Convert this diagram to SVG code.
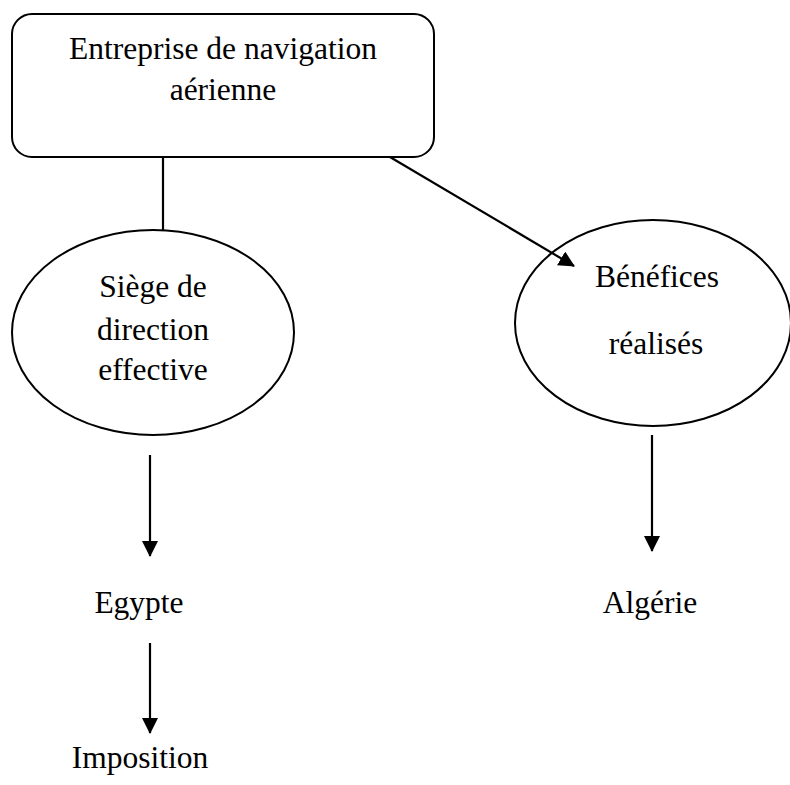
<svg xmlns="http://www.w3.org/2000/svg" width="790" height="785" viewBox="0 0 790 785">
  <style>
    .shape { fill: #ffffff; stroke: #000000; stroke-width: 2; }
    .link { fill: none; stroke: #000000; stroke-width: 2.2; }
    .label { font-family: "Liberation Serif", "Times New Roman", serif; font-size: 31.5px; fill: #000000; text-anchor: middle; }
  </style>
  <defs>
    <marker id="arrow" markerUnits="userSpaceOnUse" viewBox="0 0 16 16" refX="15" refY="8" markerWidth="16" markerHeight="16" orient="auto">
      <path d="M0,0 L16,8 L0,16 z" fill="#000000"/>
    </marker>
  </defs>
  <rect width="790" height="785" fill="#ffffff"/>

  <g id="entreprise">
    <rect class="shape" x="12" y="14" width="422" height="143" rx="20" ry="20"/>
    <text class="label" x="223" y="59">Entreprise de navigation</text>
    <text class="label" x="223" y="100">aérienne</text>
  </g>

  <g id="siege">
    <ellipse class="shape" cx="153" cy="332.5" rx="141" ry="102.5"/>
    <text class="label" x="153" y="297">Siège de</text>
    <text class="label" x="153" y="340">direction</text>
    <text class="label" x="153" y="380">effective</text>
  </g>

  <g id="benefices">
    <ellipse class="shape" cx="653" cy="323" rx="138" ry="103"/>
    <text class="label" x="657" y="287">Bénéfices</text>
    <text class="label" x="656" y="354">réalisés</text>
  </g>

  <g id="egypte">
    <text class="label" x="139" y="613">Egypte</text>
  </g>

  <g id="algerie">
    <text class="label" x="650" y="613">Algérie</text>
  </g>

  <g id="imposition">
    <text class="label" x="140" y="768">Imposition</text>
  </g>

  <!-- connectors drawn last so the diagonal arrow shows over the ellipse -->
  <g id="connectors">
    <line class="link" x1="163" y1="157" x2="163" y2="231"/>
    <line class="link" x1="390" y1="157" x2="574" y2="266" marker-end="url(#arrow)"/>
    <line class="link" x1="150" y1="455" x2="150" y2="556" marker-end="url(#arrow)"/>
    <line class="link" x1="150" y1="643" x2="150" y2="733" marker-end="url(#arrow)"/>
    <line class="link" x1="652" y1="435" x2="652" y2="551" marker-end="url(#arrow)"/>
  </g>
</svg>
